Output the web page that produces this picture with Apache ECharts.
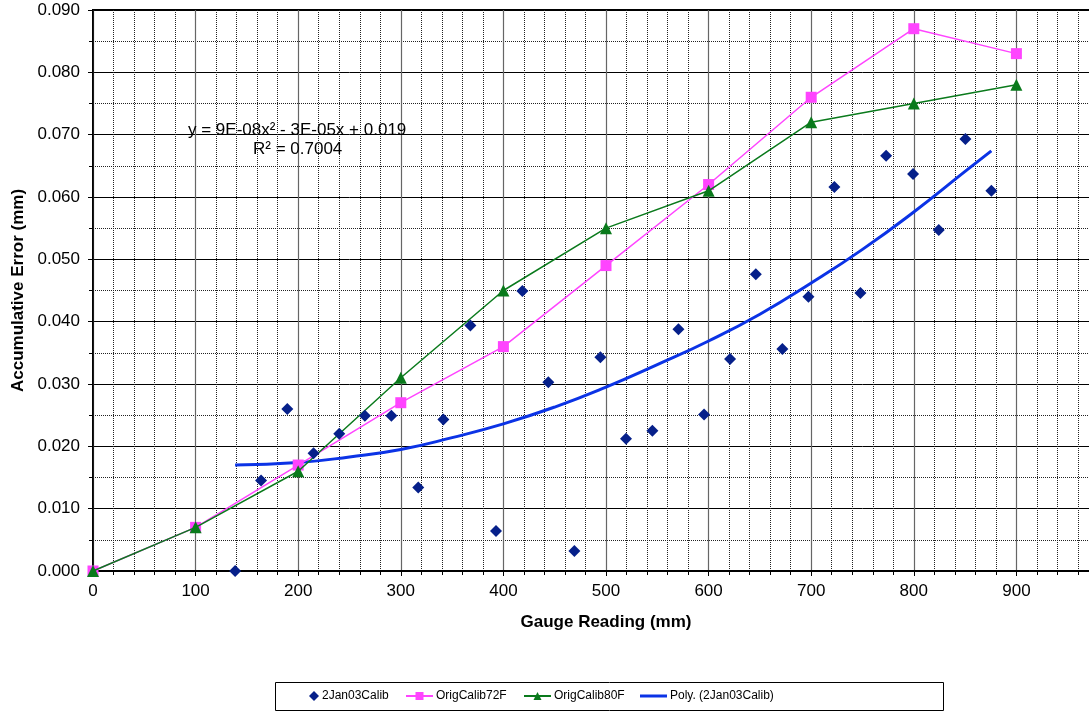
<!DOCTYPE html>
<html>
<head>
<meta charset="utf-8">
<script src="https://cdn.jsdelivr.net/npm/echarts@6/dist/echarts.min.js"></script>
<style>
html,body{margin:0;padding:0;background:#fff;overflow:hidden;width:1089px;height:713px;}
#chart{width:1119px;height:713px;}
</style>
</head>
<body>
<div id="chart"></div>
<script>
// ---- data ----
const scatterX = [138.5,163.8,189.4,215,240,265,290.8,317,341.5,367.8,392.8,418.5,443.8,469.2,494.5,519.5,545.2,570.6,595.6,620.9,646,671.9,697.3,722.6,748,773,799.3,824.3,850.3,875.6];
const scatterY = [0.0000,0.0145,0.0260,0.0189,0.0220,0.0249,0.0249,0.0134,0.0243,0.0394,0.0064,0.0449,0.0303,0.0032,0.0343,0.0212,0.0225,0.0388,0.0251,0.0340,0.0476,0.0356,0.0440,0.0616,0.0446,0.0666,0.0637,0.0547,0.0693,0.0610];
const origX = [0,100,200,300,400,500,600,700,800,900];
const calib72 = [0,0.007,0.017,0.027,0.036,0.049,0.062,0.076,0.087,0.083];
const calib80 = [0,0.007,0.016,0.031,0.045,0.055,0.061,0.072,0.075,0.078];
const trendX = [138.5,200,250,300,350,400,450,500,550,600,650,700,750,800,850,875.6];
const trendY = [0.0170,0.0174,0.0183,0.0195,0.0214,0.0236,0.0263,0.0295,0.0331,0.0369,0.0412,0.0462,0.0516,0.0576,0.0641,0.0674];
const seriesNames = ['2Jan03Calib','OrigCalib72F','OrigCalib80F','Poly. (2Jan03Calib)'];
const xTitle = 'Gauge Reading (mm)';
const yTitle = 'Accumulative Error (mm)';
const eqLine1 = 'y = 9E-08x² - 3E-05x + 0.019';
const eqLine2 = 'R² = 0.7004';

const zip = (xs, ys) => xs.map((x, i) => [x, ys[i]]);
const FONT = '"Liberation Sans", Arial, sans-serif';

const chart = echarts.init(document.getElementById('chart'), null, {renderer: 'canvas'});

function legendAt(item, left, w, h, top) {
  return {
    data: [item], left: left, top: top, padding: 0,
    itemWidth: w, itemHeight: h, itemGap: 0,
    textStyle: {fontFamily: FONT, fontSize: 12, color: '#000', padding: [0,0,0,-2]},
    selectedMode: false
  };
}

chart.setOption({
  animation: false,
  backgroundColor: '#fff',
  grid: {left: 93, top: 10, right: 0, bottom: 142, show: true, borderColor: '#000', borderWidth: 2},
  xAxis: {
    type: 'value', min: 0, max: 1000, interval: 100,
    name: xTitle, nameLocation: 'middle', nameGap: 43,
    nameTextStyle: {fontFamily: FONT, fontSize: 17, fontWeight: 'bold', color: '#000'},
    axisLine: {show: true, onZero: false, lineStyle: {color: '#000', width: 2}},
    axisTick: {show: true, length: 5, lineStyle: {color: '#000', width: 1}},
    minorTick: {show: true, splitNumber: 5, length: 4, lineStyle: {color: '#000', width: 1}},
    axisLabel: {fontFamily: FONT, fontSize: 17, color: '#000', margin: 12, showMaxLabel: false},
    splitLine: {show: true, lineStyle: {color: '#666', width: 1.2}},
    minorSplitLine: {show: true, lineStyle: {color: '#222', width: 1, type: [1,1]}}
  },
  yAxis: {
    type: 'value', min: 0, max: 0.09, interval: 0.01,
    name: yTitle, nameLocation: 'middle', nameGap: 66,
    nameTextStyle: {fontFamily: FONT, fontSize: 17, fontWeight: 'bold', color: '#000'},
    axisLine: {show: true, onZero: false, lineStyle: {color: '#000', width: 1.5}},
    axisTick: {show: true, length: 5, lineStyle: {color: '#000', width: 1}},
    minorTick: {show: true, splitNumber: 2, length: 4, lineStyle: {color: '#000', width: 1}},
    axisLabel: {fontFamily: FONT, fontSize: 17, color: '#000', margin: 13, formatter: v => v.toFixed(3)},
    splitLine: {show: true, lineStyle: {color: '#000', width: 1}},
    minorSplitLine: {show: true, lineStyle: {color: '#222', width: 1, type: [1,1]}}
  },
  legend: [
    legendAt(seriesNames[0], 309, 10, 10, 690),
    legendAt(seriesNames[1], 405, 27, 10, 690),
    legendAt(seriesNames[2], 523, 27, 10, 690),
    legendAt({name: seriesNames[3], icon: 'rect'}, 640, 27, 3, 690)
  ],
  graphic: [
    {type: 'rect', shape: {x: 275.5, y: 682.5, width: 668, height: 28}, style: {fill: 'none', stroke: '#000', lineWidth: 1}, z: 0},
    {type: 'text', left: 188, top: 122, style: {text: eqLine1, font: '17px ' + FONT, fill: '#000'}, z: 10},
    {type: 'text', left: 253, top: 141, style: {text: eqLine2, font: '17px ' + FONT, fill: '#000'}, z: 10}
  ],
  series: [
    {
      name: seriesNames[0], type: 'scatter', data: zip(scatterX, scatterY),
      symbol: 'diamond', symbolSize: 12, itemStyle: {color: '#06208A', opacity: 1}, z: 5
    },
    {
      name: seriesNames[1], type: 'line', data: zip(origX, calib72),
      symbol: 'rect', symbolSize: 11, showAllSymbol: true,
      lineStyle: {color: '#FF44FF', width: 1.5}, itemStyle: {color: '#FF44FF'}, z: 3
    },
    {
      name: seriesNames[2], type: 'line', data: zip(origX, calib80),
      symbol: 'triangle', symbolSize: 12, showAllSymbol: true,
      lineStyle: {color: '#0A7A1C', width: 1.5}, itemStyle: {color: '#0A7A1C'}, z: 4
    },
    {
      name: seriesNames[3], type: 'line', data: zip(trendX, trendY),
      symbol: 'none', smooth: true,
      lineStyle: {color: '#0B33E6', width: 3}, itemStyle: {color: '#0B33E6'}, z: 2
    }
  ]
});
</script>
</body>
</html>
